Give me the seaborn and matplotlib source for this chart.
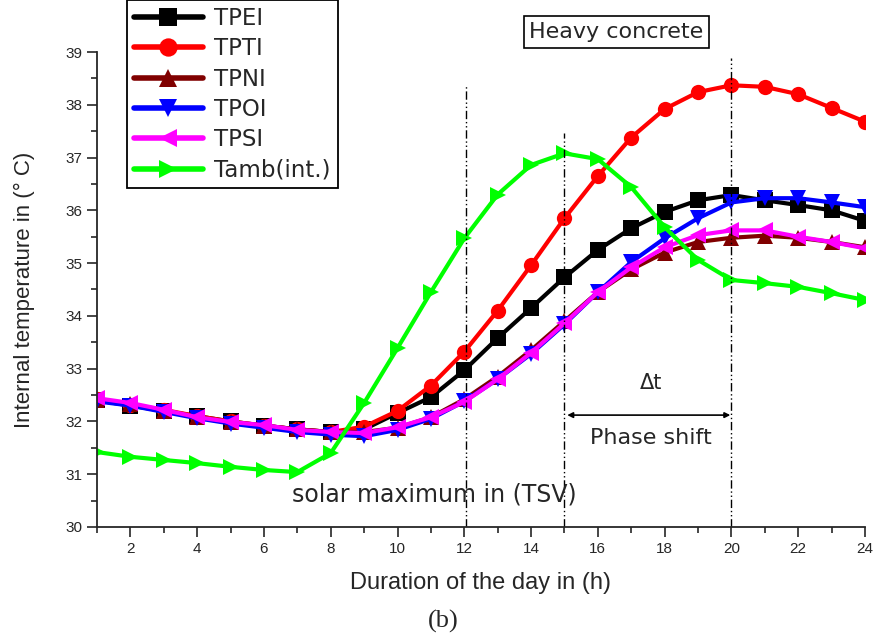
import numpy as np
import pandas as pd
import seaborn as sns
import matplotlib.pyplot as plt
from matplotlib.ticker import MultipleLocator

# hours of the day
hours = list(range(1, 25))

# internal temperatures (°C)
tpei = [32.40, 32.30, 32.20, 32.10, 32.00, 31.92, 31.85, 31.80, 31.85, 32.16, 32.46, 32.97,
        33.58, 34.15, 34.73, 35.25, 35.66, 35.97, 36.19, 36.29, 36.19, 36.10, 36.00, 35.80]
tpti = [32.42, 32.32, 32.22, 32.10, 32.00, 31.92, 31.85, 31.80, 31.90, 32.20, 32.68, 33.32,
        34.10, 34.96, 35.85, 36.65, 37.38, 37.92, 38.24, 38.37, 38.34, 38.20, 37.94, 37.68]
tpni = [32.40, 32.33, 32.20, 32.08, 31.98, 31.92, 31.85, 31.80, 31.80, 31.88, 32.08, 32.42,
        32.85, 33.35, 33.90, 34.45, 34.88, 35.20, 35.40, 35.48, 35.52, 35.48, 35.40, 35.30]
tpoi = [32.38, 32.30, 32.18, 32.06, 31.96, 31.88, 31.80, 31.75, 31.72, 31.84, 32.05, 32.38,
        32.80, 33.28, 33.84, 34.45, 35.02, 35.47, 35.85, 36.15, 36.23, 36.23, 36.15, 36.06]
tpsi = [32.44, 32.35, 32.22, 32.08, 31.99, 31.93, 31.84, 31.80, 31.78, 31.89, 32.08, 32.37,
        32.80, 33.30, 33.86, 34.45, 34.92, 35.30, 35.53, 35.62, 35.62, 35.50, 35.40, 35.28]
tamb = [31.42, 31.33, 31.27, 31.21, 31.14, 31.08, 31.04, 31.40, 32.35, 33.39, 34.45, 35.47,
        36.30, 36.86, 37.08, 36.97, 36.44, 35.68, 35.06, 34.68, 34.62, 34.55, 34.43, 34.30]

labels = ['TPEI', 'TPTI', 'TPNI', 'TPOI', 'TPSI', 'Tamb(int.)']
colors = ['#000000', '#ff0000', '#800000', '#0000ff', '#ff00ff', '#00ff00']
markers = ['s', 'o', '^', 'v', '<', '>']

df = pd.DataFrame({'hour': hours * 6,
                   'temp': tpei + tpti + tpni + tpoi + tpsi + tamb,
                   'series': sum([[l] * 24 for l in labels], [])})

sns.set_style('ticks')
plt.rcParams['font.family'] = ['Liberation Sans', 'DejaVu Sans']
wide = ['DejaVu Sans']

fig = plt.figure(figsize=(8.77, 6.39), dpi=100)
ax = fig.add_axes([0.1106, 0.1753, 0.8757, 0.7433])

sns.lineplot(data=df, x='hour', y='temp', hue='series', style='series',
             hue_order=labels, style_order=labels,
             palette=dict(zip(labels, colors)),
             markers=dict(zip(labels, markers)), dashes=False,
             linewidth=3, markersize=11, markeredgewidth=0, ax=ax)

# reference lines: solar max, peak of Tamb, peak of TPTI
for xv, top in [(12.05, 38.35), (15.0, 37.46), (20.0, 38.88)]:
    ax.plot([xv, xv], [30, top], color='black', lw=1,
            dashes=(6, 2, 1, 2, 1, 2))

ax.annotate('', xy=(15.0, 32.12), xytext=(20.05, 32.12),
            arrowprops=dict(arrowstyle='<|-|>', color='black', lw=1.2,
                            mutation_scale=8))
ax.text(17.6, 32.72, 'Δt', fontsize=15, ha='center', va='center', family=wide)
ax.text(17.6, 31.68, 'Phase shift', fontsize=16, ha='center', va='center', family=wide)
ax.text(11.1, 30.62, 'solar maximum in (TSV)', fontsize=17, ha='center', va='center',
        family=wide)
fig.text(0.703, 0.950, 'Heavy concrete', fontsize=16, ha='center', va='center', family=wide,
         bbox=dict(boxstyle='square,pad=0.25', fc='white', ec='black', lw=1.2))

ax.set_xlim(1, 24)
ax.set_ylim(30, 39)
ax.xaxis.set_major_locator(MultipleLocator(2))
ax.xaxis.set_minor_locator(MultipleLocator(1))
ax.yaxis.set_major_locator(MultipleLocator(1))
ax.yaxis.set_minor_locator(MultipleLocator(0.5))
ax.tick_params(which='major', length=7, width=1.2, direction='out', labelsize=11)
ax.tick_params(which='minor', length=4, width=1.2, direction='out')
for s in ['left', 'bottom']:
    ax.spines[s].set_linewidth(1.3)
sns.despine(ax=ax)

ax.set_xlabel('Duration of the day in (h)', fontsize=17, labelpad=12)
ax.set_ylabel('Internal temperature in (° C)', fontsize=16, labelpad=22)
fig.text(0.505, 0.028, '(b)', fontsize=19, ha='center', va='center',
         family=['Liberation Serif', 'DejaVu Serif'])

leg = ax.legend(loc='upper left', bbox_to_anchor=(0.145, 1.0), bbox_transform=fig.transFigure,
                prop={'family': wide, 'size': 16.5}, frameon=True, fancybox=False,
                handlelength=3.0, labelspacing=0.32, borderpad=0.3, borderaxespad=0,
                handletextpad=0.5, markerscale=1.2)
leg.get_frame().set_edgecolor('black')
leg.get_frame().set_linewidth(1.3)
leg.get_frame().set_alpha(1)
for line in leg.get_lines():
    line.set_linewidth(4)

fig.savefig('out.png', dpi=100)
